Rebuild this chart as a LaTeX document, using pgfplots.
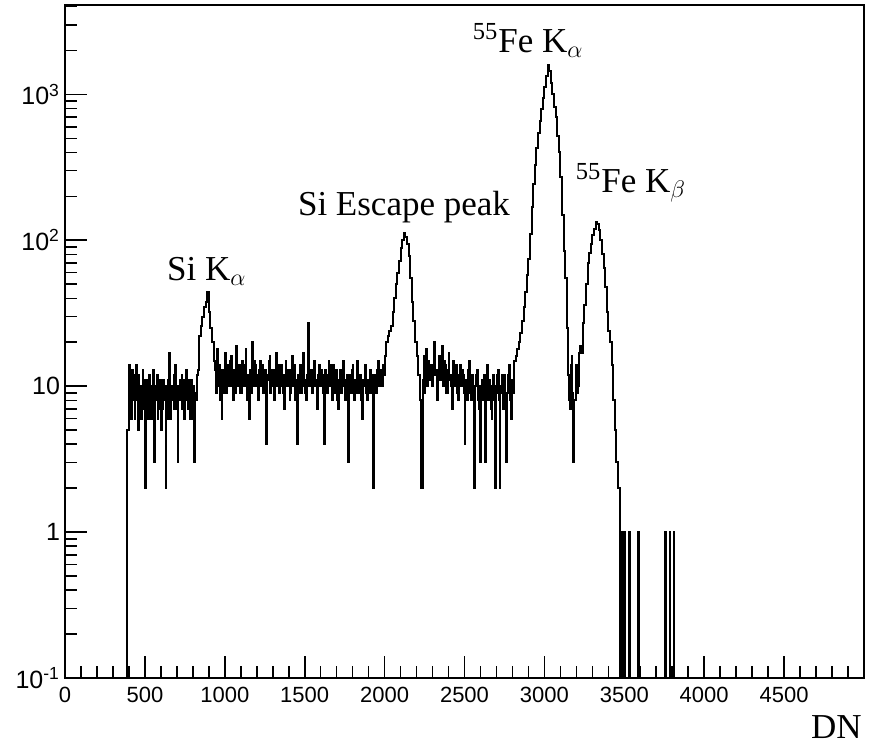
\documentclass[border=0pt]{standalone}
\usepackage{fontspec}
\setmainfont{Liberation Serif}
\setsansfont{Liberation Sans}
\usepackage{pgfplots}
\pgfplotsset{compat=1.18}

\begin{document}
\begin{tikzpicture}
\begin{axis}[
  scale only axis, width=399.5pt, height=336.5pt,
  xmin=0, xmax=5000, ymode=log, ymin=0.1, ymax=4100,
  axis line style={line width=0.8pt},
  tick align=inside, tick pos=left,
  major tick length=11pt, minor tick length=6pt,
  every tick/.style={black, line width=0.8pt},
  xtick={0,500,...,4500}, minor xtick={100,200,...,4900},
  xticklabels={0,500,1000,1500,2000,2500,3000,3500,4000,4500},
  ytick={0.1,1,10,100,1000},
  yticklabels={10\textsuperscript{-1},1,10,10\textsuperscript{2},10\textsuperscript{3}},
  minor ytick={0.2,0.3,0.4,0.5,0.6,0.7,0.8,0.9,2,3,4,5,6,7,8,9,20,30,40,50,60,70,80,90,200,300,400,500,600,700,800,900,2000,3000,4000},
  xticklabel style={yshift=-1pt, font=\sffamily\fontsize{11}{13}\selectfont},
  yticklabel style={xshift=1pt, font=\sffamily\fontsize{12.5}{14}\selectfont},
  xlabel={DN},
  xlabel style={at={(rel axis cs:1,0)}, anchor=north east, yshift=-18.5pt, xshift=-1pt,
    inner sep=0pt, font=\fontsize{17.5}{20}\selectfont},
]
% histogram: bin left edge, counts (empty bins given as 0.01, below the axis)
\addplot[const plot, black, line width=1pt] coordinates {
(380,0.01)(390,5)
(400,14)(405,7)(410,11)(415,6)(420,13)(425,8)(430,12)(435,6)(440,10)(445,14)
(450,8)(455,5)(460,12)(465,7)(470,10)(475,6)(480,9)(485,13)(490,7)(495,11)
(500,2)(505,9)(510,7)(515,11)(520,6)(525,12)(530,8)(535,10)(540,6)(545,9)
(550,13)(555,7)(560,3)(565,10)(570,8)(575,12)(580,6)(585,10)(590,7)(595,11)
(600,5)(605,9)(610,7)(615,11)(620,8)(625,10)(630,2)(635,9)(640,6)(645,11)
(650,17)(655,7)(660,6)(665,10)(670,8)(675,9)(680,12)(685,7)(690,14)(695,8)
(700,7)(705,3)(710,10)(715,8)(720,11)(725,9)(730,12)(735,7)(740,11)(745,6)
(750,9)(755,12)(760,13)(765,8)(770,7)(775,11)(780,10)(785,6)(790,11)(795,8)
(800,6)(805,10)(810,3)(815,9)(820,8)(825,12)
(830,13)(840,22)(850,26)(860,30)(870,35)(880,38)(890,44)(900,32)(910,25)(920,20)(930,15)
(940,13)(945,9)(950,18)(955,11)(960,10)(965,14)(970,8)(975,12)(980,6)(985,13)
(990,12)(995,9)(1000,17)(1005,11)(1010,9)(1015,14)(1020,13)(1025,10)(1030,11)(1035,15)
(1040,16)(1045,10)(1050,8)(1055,13)(1060,12)(1065,9)(1070,19)(1075,11)(1080,10)(1085,14)
(1090,14)(1095,9)(1100,9)(1105,13)(1110,15)(1115,10)(1120,11)(1125,14)(1130,18)(1135,10)
(1140,8)(1145,12)(1150,6)(1155,11)(1160,13)(1165,9)(1170,20)(1175,12)(1180,10)(1185,15)
(1190,14)(1195,10)(1200,12)(1205,9)(1210,8)(1215,13)(1220,15)(1225,10)(1230,11)(1235,14)
(1240,9)(1245,12)(1250,13)(1255,10)(1260,4)(1265,11)(1270,12)(1275,15)(1280,16)(1285,9)
(1290,10)(1295,13)(1300,13)(1305,9)(1310,8)(1315,12)(1320,17)(1325,10)(1330,11)(1335,14)
(1340,9)(1345,13)(1350,14)(1355,10)(1360,12)(1365,9)(1370,7)(1375,12)(1380,15)(1385,10)
(1390,10)(1395,13)(1400,13)(1405,8)(1410,9)(1415,12)(1420,16)(1425,10)(1430,11)(1435,14)
(1440,8)(1445,11)(1450,4)(1455,10)(1460,12)(1465,9)(1470,14)(1475,11)(1480,9)(1485,13)
(1490,17)(1495,10)(1500,11)(1505,9)(1510,8)(1515,12)(1520,27)(1525,10)(1530,10)(1535,13)
(1540,13)(1545,9)(1550,9)(1555,12)(1560,15)(1565,10)(1570,11)(1575,8)(1580,7)(1585,12)
(1590,14)(1595,10)(1600,10)(1605,13)(1610,12)(1615,9)(1620,4)(1625,11)(1630,13)(1635,9)
(1640,9)(1645,12)(1650,15)(1655,10)(1660,11)(1665,14)(1670,8)(1675,11)(1680,14)(1685,9)
(1690,10)(1695,13)(1700,12)(1705,8)(1710,7)(1715,11)(1720,13)(1725,9)(1730,9)(1735,12)
(1740,15)(1745,10)(1750,11)(1755,8)(1760,8)(1765,12)(1770,3)(1775,10)(1780,12)(1785,9)
(1790,10)(1795,13)(1800,14)(1805,9)(1810,8)(1815,11)(1820,11)(1825,9)(1830,15)(1835,10)
(1840,9)(1845,12)(1850,12)(1855,8)(1860,6)(1865,11)(1870,10)(1875,13)(1880,14)(1885,9)
(1890,8)(1895,11)(1900,11)(1905,9)(1910,13)(1915,10)(1920,9)(1925,12)(1930,2)(1935,11)
(1940,12)(1945,9)(1950,10)(1955,13)(1960,15)(1965,10)(1970,11)(1975,12)(1980,13)(1985,10)
(1990,14)(1995,12)
(2000,16)(2010,20)(2020,22)(2030,24)(2040,26)(2050,32)(2060,40)(2070,50)(2080,60)(2090,72)
(2100,88)(2110,100)(2120,112)(2130,105)(2140,95)(2150,78)(2160,55)(2170,38)(2180,28)(2190,20)
(2200,16)(2210,12)(2220,8)(2230,2)
(2240,11)(2245,16)(2250,9)(2255,14)(2260,18)(2265,10)(2270,12)(2275,15)(2280,14)(2285,11)
(2290,14)(2295,10)(2300,10)(2305,13)(2310,20)(2315,12)(2320,13)(2325,9)(2330,8)(2335,12)
(2340,16)(2345,11)(2350,12)(2355,14)(2360,19)(2365,10)(2370,11)(2375,15)(2380,14)(2385,9)
(2390,9)(2395,13)(2400,17)(2405,11)(2410,12)(2415,10)(2420,7)(2425,12)(2430,15)(2435,10)
(2440,11)(2445,14)(2450,13)(2455,9)(2460,8)(2465,12)(2470,14)(2475,10)(2480,10)(2485,13)
(2490,12)(2495,9)(2500,4)(2505,11)(2510,11)(2515,8)(2520,9)(2525,13)(2530,15)(2535,9)
(2540,8)(2545,11)(2550,12)(2555,9)(2560,2)(2565,10)(2570,10)(2575,12)(2580,13)(2585,8)
(2590,7)(2595,10)(2600,3)(2605,9)(2610,11)(2615,8)(2620,9)(2625,12)(2630,3)(2635,10)
(2640,14)(2645,9)(2650,8)(2655,11)(2660,10)(2665,7)(2670,6)(2675,10)(2680,12)(2685,8)
(2690,2)(2695,10)(2700,9)(2705,12)(2710,13)(2715,8)(2720,2)(2725,9)(2730,10)(2735,12)
(2740,7)(2745,11)(2750,12)(2755,8)(2760,3)(2765,9)(2770,9)(2775,12)(2780,14)(2785,8)
(2790,6)(2795,10)(2800,11)(2805,9)(2810,15)
(2820,16)(2830,18)(2840,20)(2850,23)(2860,28)(2870,35)(2880,44)(2890,58)
(2900,75)(2910,110)(2920,170)(2930,245)(2940,330)(2950,430)(2960,540)(2970,660)(2980,800)(2990,950)
(3000,1120)(3010,1330)(3020,1600)(3030,1450)(3040,1200)(3050,1000)(3060,820)(3070,700)(3080,520)(3090,400)
(3100,270)(3110,150)(3120,85)(3130,55)(3140,25)
(3150,12)(3155,8)(3160,7)(3165,14)(3170,16)(3175,9)(3180,3)(3185,8)(3190,8)(3195,12)
(3200,14)(3205,9)(3210,10)(3215,17)
(3220,19)(3230,17)(3240,27)(3250,36)(3260,50)(3270,70)(3280,82)(3290,95)
(3300,108)(3310,120)(3320,133)(3330,130)(3340,118)(3350,100)(3360,80)(3370,65)(3380,48)(3390,32)
(3400,24)(3410,20)(3420,14)(3430,8)(3440,5)(3450,3)(3460,2)
(3470,1)(3474,0.01)(3476,1)(3480,0.01)(3482,1)(3486,0.01)(3488,1)(3492,0.01)(3494,1)(3498,0.01)(3500,1)(3505,0.01)
(3530,1)(3533,0.01)(3587,1)(3590,0.01)(3755,1)(3758,0.01)(3786,1)(3789,0.01)(3811,1)(3814,0.01)(3900,0.01)
};
\node[anchor=base west, inner sep=0pt, font=\fontsize{17.5}{20}\selectfont] at (axis cs:637,53) {Si K\textsubscript{$\alpha$}};
\node[anchor=base west, inner sep=0pt, font=\fontsize{17.5}{20}\selectfont] at (axis cs:1456,148) {Si Escape peak};
\node[anchor=base west, inner sep=0pt, font=\fontsize{17.5}{20}\selectfont] at (axis cs:2550,1942) {\textsuperscript{55}Fe K\textsubscript{$\alpha$}};
\node[anchor=base west, inner sep=0pt, font=\fontsize{17.5}{20}\selectfont] at (axis cs:3194,213) {\textsuperscript{55}Fe K\textsubscript{$\beta$}};
\coordinate (bl) at (rel axis cs:0,0);
\coordinate (tr) at (rel axis cs:1,1);
\end{axis}
\path ([xshift=-32.5pt,yshift=-33pt]bl) rectangle ([xshift=5pt,yshift=2.5pt]tr);
\end{tikzpicture}
\end{document}
